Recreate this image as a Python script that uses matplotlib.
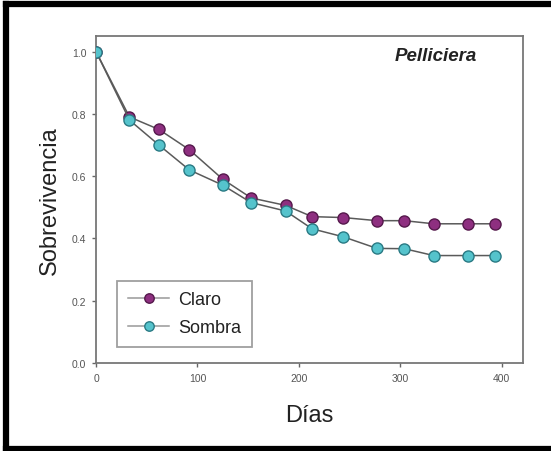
import matplotlib
matplotlib.use("Agg")
import matplotlib.pyplot as plt
from matplotlib.lines import Line2D

dias = [0, 33, 62, 92, 125, 153, 187, 213, 244, 277, 304, 333, 367, 393]
claro = [1.0, 0.79, 0.75, 0.685, 0.59, 0.53, 0.506, 0.47, 0.467, 0.457, 0.457, 0.447, 0.447, 0.447]
sombra = [1.0, 0.78, 0.70, 0.62, 0.571, 0.515, 0.488, 0.431, 0.405, 0.368, 0.367, 0.345, 0.345, 0.345]
xticks = [0, 100, 200, 300, 400]
yticks = [0.0, 0.2, 0.4, 0.6, 0.8, 1.0]

plt.rcParams['font.family'] = ['Liberation Sans', 'DejaVu Sans']

W, H = 551, 452
fig = plt.figure(figsize=(W / 100, H / 100), dpi=100)
ax = fig.add_axes([96 / W, 1 - 364 / H, (523 - 96) / W, (364 - 37) / H])

line_col = '#5a5a5a'
ax.plot(dias, claro, '-o', color=line_col, lw=1.1, markersize=8,
        markerfacecolor='#8e2f80', markeredgecolor='#55194c', markeredgewidth=1.0,
        label='Claro', zorder=3)
ax.plot(dias, sombra, '-o', color=line_col, lw=1.1, markersize=8,
        markerfacecolor='#55c3cc', markeredgecolor='#2a7a84', markeredgewidth=1.0,
        label='Sombra', zorder=4)

ax.set_xlim(0, 421)
ax.set_ylim(0, 1.05)
ax.set_xticks(xticks)
ax.set_xticklabels([str(t) for t in xticks])
ax.set_yticks(yticks)
ax.set_yticklabels([f"{t:.1f}" for t in yticks])
ax.tick_params(direction='out', length=3, width=1, colors='#666666',
               labelsize=7.5, labelcolor='#555555', pad=4)

for s in ax.spines.values():
    s.set_color('#777777')
    s.set_linewidth(1.3)

ax.set_xlabel('Días', fontsize=17, labelpad=15, color='#222222')
ax.set_ylabel('Sobrevivencia', fontsize=17, labelpad=8, color='#222222')

ax.text((477 - 96) / 427, 0.94, 'Pelliciera', transform=ax.transAxes, ha='right', va='center',
        fontsize=13.5, fontweight='bold', fontstyle='italic', color='#222222')

leg = ax.legend(loc='lower left', bbox_to_anchor=((117 - 96) / 427, (364 - 348) / 327),
                fontsize=13, frameon=True, fancybox=False, handlelength=2.3,
                handletextpad=0.5, borderpad=0.6, labelspacing=0.6,
                borderaxespad=0, markerscale=0.85)
leg.get_frame().set_edgecolor('#888888')
leg.get_frame().set_linewidth(1.3)
for t in leg.get_texts():
    t.set_color('#222222')
for h in leg.legend_handles:
    h.set_color('#999999')

# outer black frame (top, left, bottom)
fig.add_artist(Line2D([6 / W, 549 / W], [1 - 4.5 / H, 1 - 4.5 / H], color='black', lw=4.5,
                      transform=fig.transFigure))
fig.add_artist(Line2D([6 / W, 6 / W], [1 - 4.5 / H, 1 - 449.5 / H], color='black', lw=4.5,
                      transform=fig.transFigure))
fig.add_artist(Line2D([6 / W, 551 / W], [1 - 449.5 / H, 1 - 449.5 / H], color='black', lw=4.5,
                      transform=fig.transFigure))

fig.savefig('out.png', dpi=100)
